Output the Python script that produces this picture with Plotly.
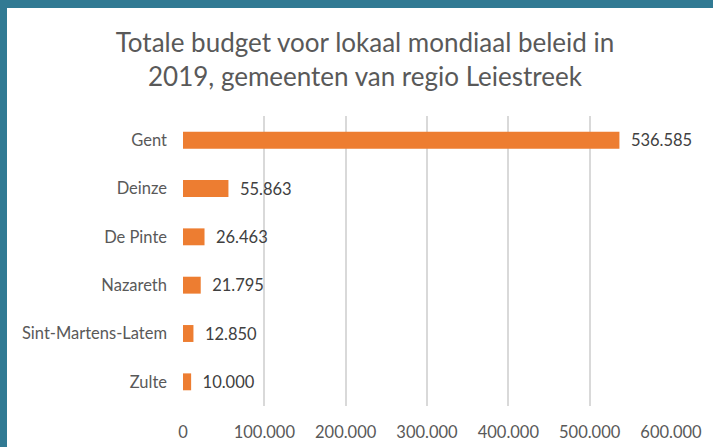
import plotly.graph_objects as go

gemeenten = ["Gent", "Deinze", "De Pinte", "Nazareth", "Sint-Martens-Latem", "Zulte"]
budget = [536585, 55863, 26463, 21795, 12850, 10000]
x_ticks = [0, 100000, 200000, 300000, 400000, 500000, 600000]
x_ticklabels = ["0", "100.000", "200.000", "300.000", "400.000", "500.000", "600.000"]
title_text = "Totale budget voor lokaal mondiaal beleid in<br>2019, gemeenten van regio Leiestreek"

W, H = 713, 447
L, R, T, B = 183, 42, 116, 41
pw, ph = W - L - R, H - T - B

fig = go.Figure()
fig.add_trace(go.Bar(
    y=gemeenten, x=budget, orientation="h",
    marker=dict(color="#ED7D31", line=dict(width=0)),
    width=0.35,
    text=[f"{v:,}".replace(",", ".") for v in budget],
    texttemplate="  %{text}",
    textposition="outside",
    constraintext="none",
    textfont=dict(family="Lato", size=16.5, color="#404040"),
    cliponaxis=False,
    hoverinfo="skip",
))

def px2x(p):
    return (p - L) / pw

def py2y(p):
    return (H - B - p) / ph

shapes = [
    dict(type="rect", xref="paper", yref="paper",
         x0=px2x(-2), x1=px2x(W + 2), y0=py2y(8), y1=py2y(-2),
         fillcolor="#317A93", line=dict(width=0), layer="above"),
    dict(type="rect", xref="paper", yref="paper",
         x0=px2x(-2), x1=px2x(7), y0=py2y(H + 2), y1=py2y(-2),
         fillcolor="#317A93", line=dict(width=0), layer="above"),
]

fig.update_layout(
    width=W, height=H,
    margin=dict(l=L, r=R, t=T, b=B, pad=0, autoexpand=False),
    paper_bgcolor="white", plot_bgcolor="white",
    separators=",.",
    showlegend=False,
    title=dict(text=title_text, x=365 / W, xref="container", xanchor="center",
               y=1 - 52 / H, yref="container", yanchor="middle",
               font=dict(family="Lato", size=26, color="#595959")),
    xaxis=dict(range=[0, 600000], tickvals=x_ticks, ticktext=x_ticklabels,
               showgrid=True, gridcolor="#D9D9D9", gridwidth=2,
               zeroline=False, showline=False, ticks="", automargin=False,
               ticklabelstandoff=14,
               tickfont=dict(family="Lato", size=16.5, color="#595959")),
    yaxis=dict(autorange="reversed", showgrid=False, zeroline=False,
               showline=False, ticks="", ticklabelstandoff=15, automargin=False,
               tickfont=dict(family="Lato", size=16.5, color="#595959")),
    shapes=shapes,
    bargap=0.65,
)

fig.write_html(
    "out.html",
    config={"displayModeBar": False},
    post_script="document.body.style.margin='0';document.body.style.overflow='hidden';",
)
